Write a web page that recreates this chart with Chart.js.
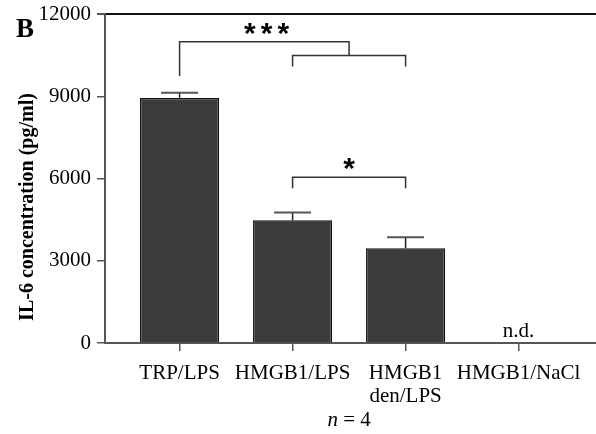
<!DOCTYPE html>
<html>
<head>
<meta charset="utf-8">
<script src="https://cdn.jsdelivr.net/npm/chart.js@4.4.0/dist/chart.umd.min.js"></script>
<style>
  html, body { margin: 0; padding: 0; background: #fff; }
  #wrap { width: 596px; height: 434px; }
</style>
</head>
<body>
<div id="wrap"><canvas id="chart" width="596" height="434"></canvas></div>
<script>
// =========================
// data
// =========================
const categories = ["TRP/LPS", "HMGB1/LPS", ["HMGB1", "den/LPS"], "HMGB1/NaCl"];
const il6Means = [8950, 4480, 3460, null]; // null = n.d.
const il6Errors = [190, 290, 400, null];
const yTicks = [0, 3000, 6000, 9000, 12000];

// significance brackets, as polylines in data space [categoryIndex, value]
const sigLines = [
  [[0, 9750], [0, 11000], [1.5, 11000], [1.5, 10500]],
  [[1, 10100], [1, 10500], [2, 10500], [2, 10100]],
  [[1, 5650], [1, 6050], [2, 6050], [2, 5650]],
];
const sigLabels = [
  { x: 0.77, y: 11000, text: "***" },
  { x: 1.5, y: 6050, text: "*" },
];
const panelLabel = "B";
const yTitle = "IL-6 concentration (pg/ml)";
const sampleNote = "4";

const SERIF = '"Liberation Serif", "Times New Roman", serif';

// =========================
// error bars, brackets, extra texts
// =========================
const annotations = {
  id: "annotations",
  afterDatasetsDraw(chart) {
    const { ctx, scales } = chart;
    const xs = scales.x;
    const ys = scales.y;

    ctx.save();

    // error bars (upper half only)
    il6Means.forEach((mean, i) => {
      if (mean == null) return;
      const x = xs.getPixelForValue(i);
      const yBase = ys.getPixelForValue(mean);
      const yTop = ys.getPixelForValue(mean + il6Errors[i]);
      ctx.strokeStyle = "#222";
      ctx.lineWidth = 1.5;
      ctx.beginPath();
      ctx.moveTo(x, yBase);
      ctx.lineTo(x, yTop);
      ctx.stroke();
      ctx.strokeStyle = "#555";
      ctx.lineWidth = 2;
      ctx.beginPath();
      ctx.moveTo(x - 18.5, yTop);
      ctx.lineTo(x + 18.5, yTop);
      ctx.stroke();
    });

    // brackets
    ctx.strokeStyle = "#333";
    ctx.lineWidth = 1.5;
    sigLines.forEach((line) => {
      ctx.beginPath();
      line.forEach(([cx, v], k) => {
        const px = xs.getPixelForValue(cx);
        const py = ys.getPixelForValue(v);
        if (k === 0) ctx.moveTo(px, py);
        else ctx.lineTo(px, py);
      });
      ctx.stroke();
    });

    ctx.fillStyle = "#000";
    ctx.textBaseline = "alphabetic";
    ctx.textAlign = "left";
    ctx.font = 'bold 30px "Liberation Sans", Arial, sans-serif';
    ctx.letterSpacing = "5px";
    sigLabels.forEach((s) => {
      const w = ctx.measureText(s.text).width - 5;
      ctx.fillText(s.text, xs.getPixelForValue(s.x) - w / 2, ys.getPixelForValue(s.y) + 1);
    });
    ctx.letterSpacing = "0px";

    // n.d. labels
    ctx.textAlign = "center";
    ctx.font = `21px ${SERIF}`;
    il6Means.forEach((mean, i) => {
      if (mean != null) return;
      ctx.fillText("n.d.", xs.getPixelForValue(i), ys.getPixelForValue(0) - 6);
    });

    // n = 4 note under the axis
    const noteX = xs.getPixelForValue(1.5);
    ctx.font = `italic 21px ${SERIF}`;
    const nW = ctx.measureText("n").width;
    ctx.font = `21px ${SERIF}`;
    const restText = " = " + sampleNote;
    const rW = ctx.measureText(restText).width;
    const startX = noteX - (nW + rW) / 2;
    ctx.textAlign = "left";
    ctx.font = `italic 21px ${SERIF}`;
    ctx.fillText("n", startX, 426);
    ctx.font = `21px ${SERIF}`;
    ctx.fillText(restText, startX + nW, 426);

    // panel label
    ctx.font = `bold 27px ${SERIF}`;
    ctx.fillText(panelLabel, 16, 37);

    // y axis title
    ctx.translate(33, 207);
    ctx.rotate(-Math.PI / 2);
    ctx.textAlign = "center";
    ctx.font = `bold 20px ${SERIF}`;
    ctx.fillText(yTitle, 0, 0);

    ctx.restore();
  },
};

// =========================
// chart
// =========================
const ctx = document.querySelector("#chart").getContext("2d");

new Chart(ctx, {
  type: "bar",
  data: {
    datasets: [
      {
        data: categories.map((c, i) => ({ x: i, y: il6Means[i] })),
        backgroundColor: "#3b3b3b",
        borderColor: "#111",
        borderWidth: 1.5,
        barPercentage: 0.7,
        categoryPercentage: 1,
      },
    ],
  },
  options: {
    responsive: false,
    animation: false,
    layout: { padding: { top: 14, left: 0, right: 0, bottom: 0 } },
    plugins: {
      legend: { display: false },
      tooltip: { enabled: false },
    },
    scales: {
      x: {
        type: "linear",
        offset: false,
        min: -0.66,
        max: 3.685,
        afterBuildTicks: (s) => {
          s.ticks = categories.map((c, i) => ({ value: i }));
        },
        afterFit: (s) => {
          s.height = 91;
        },
        grid: {
          drawOnChartArea: false,
          drawTicks: true,
          tickLength: 8,
          color: "#555",
          lineWidth: 1.5,
          offset: false,
        },
        border: { display: true, color: "#555", width: 2 },
        ticks: {
          callback: (v) => categories[v],
          font: { family: SERIF, size: 21, lineHeight: 1.1 },
          color: "#000",
          padding: 11,
          maxRotation: 0,
          autoSkip: false,
        },
      },
      y: {
        min: 0,
        max: 12000,
        afterBuildTicks: (s) => {
          s.ticks = yTicks.map((v) => ({ value: v }));
        },
        afterFit: (s) => {
          s.width = 105;
        },
        grid: {
          drawTicks: true,
          tickLength: 8,
          color: (c) => (c.tick && c.tick.value === 12000 ? "#111" : "rgba(0,0,0,0)"),
          tickColor: "#555",
          lineWidth: (c) => (c.tick && c.tick.value === 12000 ? 2 : 1.5),
        },
        border: { display: true, color: "#555", width: 2 },
        ticks: {
          callback: (v) => String(v),
          font: { family: SERIF, size: 21, lineHeight: 0.8 },
          color: "#000",
          padding: 6,
        },
      },
    },
  },
  plugins: [annotations],
});
</script>
</body>
</html>
